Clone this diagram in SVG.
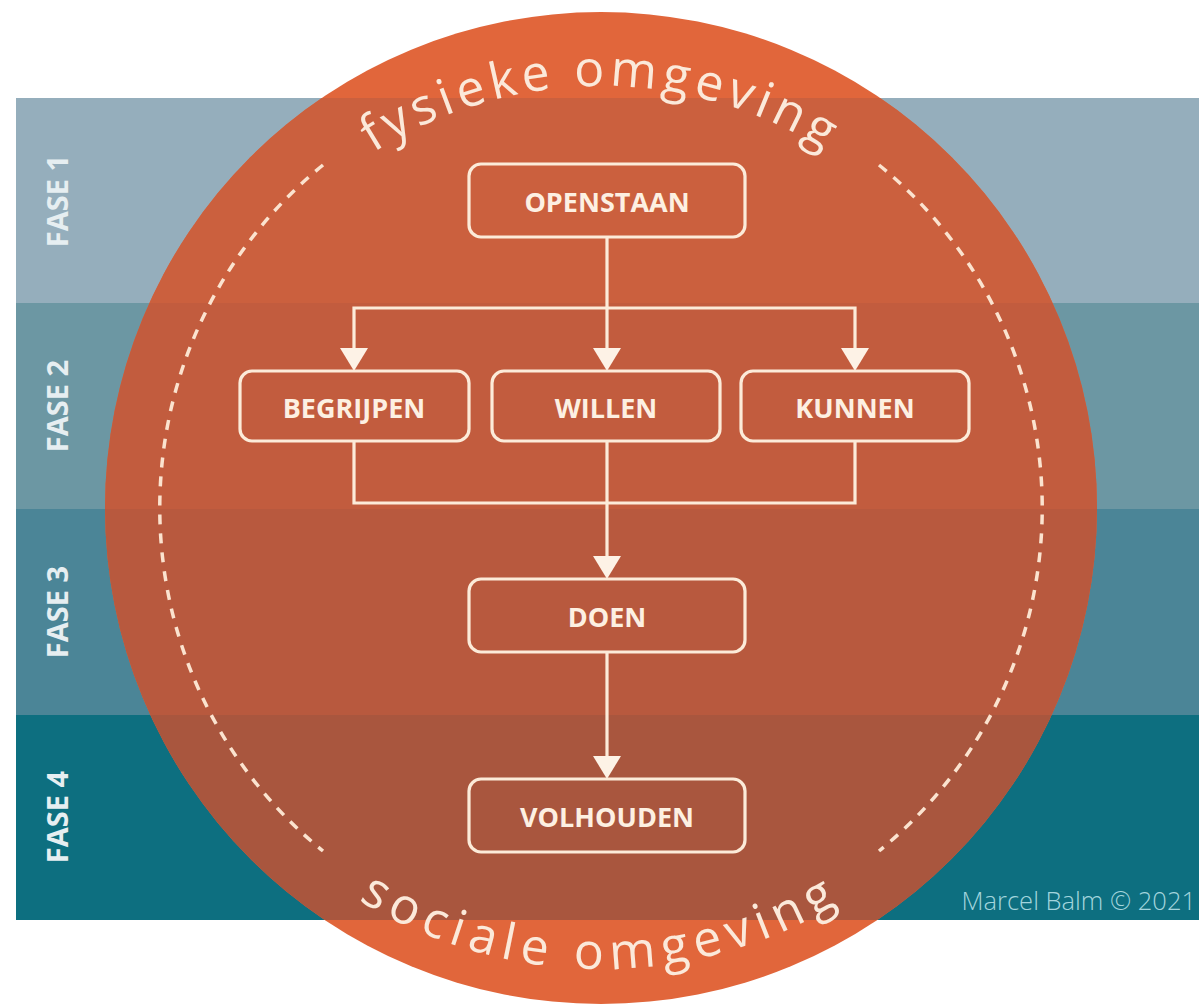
<svg xmlns="http://www.w3.org/2000/svg" width="1199" height="1004" viewBox="0 0 1199 1004">
<style>
.box{fill:none;stroke:#FCEBD9;stroke-width:3.2}
.lbl{font-family:"Open Sans","Liberation Sans",sans-serif;font-weight:700;font-size:27px;fill:#FDF0E2;text-anchor:middle;dominant-baseline:central}
.fase{font-family:"Open Sans","Liberation Sans",sans-serif;font-weight:700;font-size:29px;fill:#E6EEF1;text-anchor:middle;dominant-baseline:central}
.arc{font-family:"Open Sans","Liberation Sans",sans-serif;font-weight:400;font-size:50px;fill:#FBE9DA}
.ln{fill:none;stroke:#FCEBD9;stroke-width:3.2}
.ah{fill:#FDF2E6}
.dash{fill:none;stroke:#FBE3CF;stroke-width:3.5;stroke-dasharray:10 9}
</style>
<defs>
<clipPath id="cc"><circle cx="601" cy="508" r="496"/></clipPath>
<path id="topArc" d="M 179,508 A 422 422 0 0 1 1023,508"/>
<path id="botArc" d="M 140,508 A 461 461 0 0 0 1062,508"/>
</defs>
<rect width="1199" height="1004" fill="#FFFFFF"/>
<g id="bands">
<rect x="16" y="98" width="1183" height="205" fill="#95AEBC"/>
<rect x="16" y="303" width="1183" height="206" fill="#6C97A3"/>
<rect x="16" y="509" width="1183" height="206" fill="#4B8597"/>
<rect x="16" y="715" width="1183" height="205" fill="#0D6F80"/>
</g>
<g id="circle">
<g clip-path="url(#cc)">
<rect x="0" y="0" width="1199" height="1004" fill="#E1663B"/>
<rect x="16" y="98" width="1183" height="205" fill="#CB603E"/>
<rect x="16" y="303" width="1183" height="206" fill="#C25C3E"/>
<rect x="16" y="509" width="1183" height="206" fill="#B8593E"/>
<rect x="16" y="715" width="1183" height="205" fill="#A9563E"/>
</g>
<path class="dash" d="M 323,165 A 442 442 0 0 0 323,851"/>
<path class="dash" d="M 879,165 A 442 442 0 0 1 879,851"/>
<text class="arc" letter-spacing="5"><textPath href="#topArc" startOffset="50%" text-anchor="middle">fysieke omgeving</textPath></text>
<text class="arc" letter-spacing="7"><textPath href="#botArc" startOffset="50%" text-anchor="middle">sociale omgeving</textPath></text>
</g>
<g id="fase-labels">
<text class="fase" transform="translate(56,201) rotate(-90)">FASE 1</text>
<text class="fase" transform="translate(56,406) rotate(-90)">FASE 2</text>
<text class="fase" transform="translate(56,612) rotate(-90)">FASE 3</text>
<text class="fase" transform="translate(56,817) rotate(-90)">FASE 4</text>
</g>
<g id="connectors">
<path class="ln" d="M 607,237 V 350"/>
<path class="ln" d="M 354,350 V 308 H 855 V 350"/>
<path class="ln" d="M 354,441 V 503 H 855 V 441"/>
<path class="ln" d="M 607,441 V 559"/>
<path class="ln" d="M 607,652 V 757"/>
<polygon class="ah" points="340,348 368,348 354,371"/>
<polygon class="ah" points="593,348 621,348 607,371"/>
<polygon class="ah" points="841,348 869,348 855,371"/>
<polygon class="ah" points="593,556 621,556 607,579"/>
<polygon class="ah" points="593,756 621,756 607,779"/>
</g>
<g id="node-openstaan"><rect class="box" x="469" y="164" width="276" height="73" rx="12"/><text class="lbl" x="607" y="201">OPENSTAAN</text></g>
<g id="node-begrijpen"><rect class="box" x="240" y="371" width="229" height="70" rx="12"/><text class="lbl" x="354" y="407">BEGRIJPEN</text></g>
<g id="node-willen"><rect class="box" x="492" y="371" width="228" height="70" rx="12"/><text class="lbl" x="606" y="407">WILLEN</text></g>
<g id="node-kunnen"><rect class="box" x="741" y="371" width="228" height="70" rx="12"/><text class="lbl" x="855" y="407">KUNNEN</text></g>
<g id="node-doen"><rect class="box" x="469" y="579" width="276" height="73" rx="12"/><text class="lbl" x="607" y="616">DOEN</text></g>
<g id="node-volhouden"><rect class="box" x="469" y="779" width="276" height="73" rx="12"/><text class="lbl" x="607" y="816">VOLHOUDEN</text></g>
<text x="1196" y="910" text-anchor="end" font-family="'Open Sans','Liberation Sans',sans-serif" font-weight="300" font-size="25.5" fill="#A3D5DD">Marcel Balm © 2021</text>
</svg>
